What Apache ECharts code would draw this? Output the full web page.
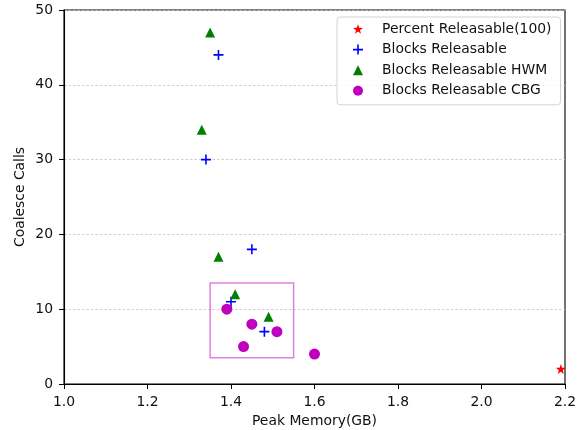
<!DOCTYPE html>
<html>
<head>
<meta charset="utf-8">
<script src="https://cdn.jsdelivr.net/npm/echarts@6/dist/echarts.min.js"></script>
<style>
html,body{margin:0;padding:0;background:#fff;}
#c{width:584px;height:430px;}
</style>
</head>
<body>
<div id="c"></div>
<script>
// Data
var percentReleasable = [[2.19, 2]];
var blocksReleasable = [[1.37, 44], [1.34, 30], [1.45, 18], [1.40, 11], [1.48, 7]];
var blocksReleasableHWM = [[1.35, 47], [1.33, 34], [1.37, 17], [1.41, 12], [1.49, 9]];
var blocksReleasableCBG = [[1.39, 10], [1.45, 8], [1.51, 7], [1.43, 5], [1.60, 4]];
var highlightBox = [[1.35, 13.5], [1.55, 3.5]];
var seriesNames = ['Percent Releasable(100)', 'Blocks Releasable', 'Blocks Releasable HWM', 'Blocks Releasable CBG'];
var xTicks = [1.0, 1.2, 1.4, 1.6, 1.8, 2.0, 2.2];
var yTicks = [0, 10, 20, 30, 40, 50];

var FONT = 'DejaVu Sans';
var FS = 13.9;
var STAR = 'path://M50,0 L61.8,35.1 L98.9,35.5 L69.1,57.6 L80.3,93 L50,71.5 L19.7,93 L30.9,57.6 L1.1,35.5 L38.2,35.1 Z';
var PLUS = 'path://M4.2,0 H5.8 V10 H4.2 Z M0,4.2 H10 V5.8 H0 Z';

var chart = echarts.init(document.getElementById('c'), null, {renderer: 'canvas'});
chart.setOption({
  animation: false,
  backgroundColor: '#fff',
  grid: {left: 64, right: 19, top: 10, bottom: 46, containLabel: false, outerBoundsMode: 'none',
    show: true, borderColor: '#000', borderWidth: 1.1, backgroundColor: 'transparent'},
  xAxis: {
    type: 'value', min: xTicks[0], max: xTicks[xTicks.length - 1], interval: 0.2,
    name: 'Peak Memory(GB)', nameLocation: 'middle', nameGap: 30, nameMoveOverlap: false,
    nameTextStyle: {fontFamily: FONT, fontSize: FS, color: '#111'},
    axisLine: {show: true, onZero: false, lineStyle: {color: '#000', width: 1.1}},
    axisTick: {show: true, inside: false, length: 5, lineStyle: {color: '#000'}},
    axisLabel: {fontFamily: FONT, fontSize: FS, color: '#111', margin: 11.5, formatter: function (v) { return v.toFixed(1); }},
    splitLine: {show: false}
  },
  yAxis: {
    type: 'value', min: yTicks[0], max: yTicks[yTicks.length - 1], interval: 10,
    name: 'Coalesce Calls', nameLocation: 'middle', nameGap: 36.5, nameRotate: 90, nameMoveOverlap: false,
    nameTextStyle: {fontFamily: FONT, fontSize: FS, color: '#111'},
    axisLine: {show: true, onZero: false, lineStyle: {color: '#000', width: 1.1}},
    axisTick: {show: true, inside: false, length: 5, lineStyle: {color: '#000'}},
    axisLabel: {fontFamily: FONT, fontSize: FS, color: '#111', margin: 11},
    splitLine: {show: true, lineStyle: {color: '#c4c4c4', width: 0.8, type: [2.5, 2]}}
  },
  legend: {
    orient: 'vertical', left: 337, top: 17,
    data: seriesNames,
    backgroundColor: 'rgba(255,255,255,0.8)', borderColor: '#d4d4d4', borderWidth: 1, borderRadius: 3,
    padding: [5, 9, 7, 16],
    itemWidth: 10, itemHeight: 10, itemGap: 6.6,
    textStyle: {fontFamily: FONT, fontSize: FS, color: '#111', padding: [0, 0, 0, 14], lineHeight: 14}
  },
  series: [
    {name: seriesNames[0], type: 'scatter', data: percentReleasable, symbol: STAR, symbolSize: 10, itemStyle: {color: '#ff0000', opacity: 1}, z: 5},
    {name: seriesNames[1], type: 'scatter', data: blocksReleasable, symbol: PLUS, symbolSize: 10, itemStyle: {color: '#0000ff', opacity: 1}, z: 5},
    {name: seriesNames[2], type: 'scatter', data: blocksReleasableHWM, symbol: 'triangle', symbolSize: 10, itemStyle: {color: '#008000', opacity: 1}, z: 5},
    {name: seriesNames[3], type: 'scatter', data: blocksReleasableCBG, symbol: 'circle', symbolSize: 11, itemStyle: {color: '#bf00bf', opacity: 1}, z: 5,
      markArea: {
        silent: true,
        itemStyle: {color: 'rgba(0,0,0,0)', borderColor: 'rgba(191,0,191,0.5)', borderWidth: 1.5},
        data: [[{coord: highlightBox[0]}, {coord: highlightBox[1]}]]
      }
    }
  ]
});
</script>
</body>
</html>
